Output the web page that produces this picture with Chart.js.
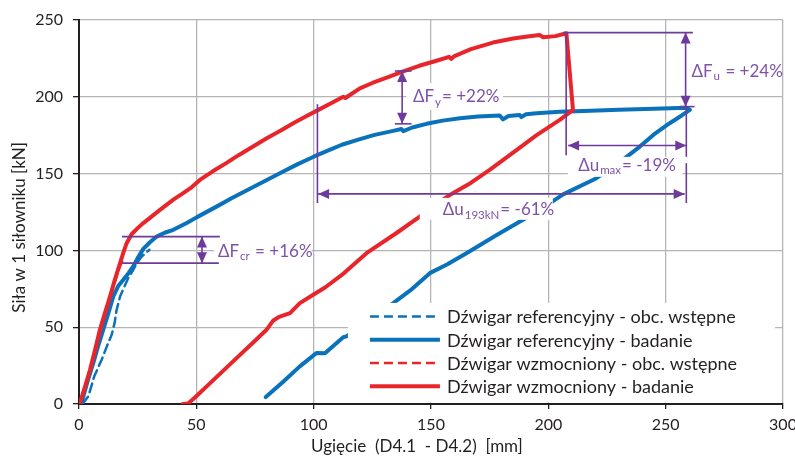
<!DOCTYPE html>
<html><head><meta charset="utf-8">
<script src="https://cdn.jsdelivr.net/npm/chart.js@4.4.1/dist/chart.umd.min.js"></script>
<style>html,body{margin:0;padding:0;background:#fff}</style>
</head><body>
<canvas id="c" width="795" height="464"></canvas>
<script>
// ---------- DATA ----------
const xTicks = [0, 50, 100, 150, 200, 250, 300];
const yTicks = [0, 50, 100, 150, 200, 250];
const seriesNames = [
  'Dźwigar referencyjny - obc. wstępne',
  'Dźwigar referencyjny - badanie',
  'Dźwigar wzmocniony - obc. wstępne',
  'Dźwigar wzmocniony - badanie'
];
const xTitle = 'Ugięcie  (D4.1  - D4.2)  [mm]';
const yTitle = 'Siła w 1 siłowniku [kN]';

const refPreX = [1.5, 4, 6.5, 9.7, 12, 13.9, 15.2, 16, 17.5, 19.5, 21, 23, 24.6, 26.7, 28.5, 30];
const refPreY = [0, 5, 18, 29, 38, 45, 53, 61, 70, 77, 82, 87, 91.7, 96, 98.5, 100.4];

const refTestX = [1.1, 3.5, 6.1, 8, 10.3, 12.5, 14.6, 16.8, 18.9, 21, 23.1, 25, 27.4, 30, 33.1, 36.5, 40.2, 45.9, 50.1, 58.6, 65, 72, 79, 86, 93, 100, 106, 112, 119.7, 126, 133.9, 137.4, 138.2, 142, 148.1, 155, 162.3, 170, 179.3, 180.7, 183, 187.8, 188.5, 190.5, 195, 204.9, 215, 230, 245, 258.8, 260.3, 257, 251.7, 245, 239, 230, 220.5, 206.3, 198, 189.2, 178, 165.1, 157, 149.5, 142, 133.9, 124, 114, 112.6, 104.8, 101.2, 99.8, 94.1, 87, 79.6];
const refTestY = [0.6, 14, 26.7, 37, 48.3, 59, 70, 77, 80.9, 85, 89.5, 95, 101, 105, 109, 111.5, 113.4, 117.8, 121.5, 128.5, 134, 139.5, 145, 150.5, 156, 161, 165, 168.8, 172.4, 175.2, 177.8, 179, 177.6, 180, 182.4, 184.5, 186.1, 187.2, 187.8, 185.3, 187.5, 188.2, 186.8, 188.6, 189.3, 190.2, 190.8, 191.5, 192.2, 192.8, 191.5, 188, 182.8, 175.5, 167.6, 157, 147, 136.5, 128, 120, 110, 98.2, 91, 85.2, 75, 65.7, 55, 44, 43.5, 33, 33.2, 31.5, 24.5, 14.5, 4.5];

const strPreX = [0, 2.5, 5, 7.5, 10, 12.5, 15, 17, 19];
const strPreY = [0, 10, 24, 37, 52, 65, 78, 88, 95];

const strTestX = [0.4, 2.5, 4.7, 6.8, 8.9, 11, 13.2, 15.3, 17.5, 19, 20.3, 22.4, 25, 27.4, 30.5, 34.5, 40.2, 44.4, 47.5, 51.5, 57, 62.9, 68, 74, 80, 86, 91.3, 97, 102, 107, 112.6, 113.5, 119.7, 125, 132, 138.2, 145, 152, 157.7, 158.7, 160, 167, 176.4, 185, 191.1, 196.3, 197.8, 203, 207.7, 210.5, 204.9, 195, 187, 175, 166, 158, 150, 145.2, 135, 122.5, 112, 105, 99.8, 94.1, 89.9, 85, 82.8, 79.9, 75, 65, 57, 49.4, 46.5, 44.2];
const strTestY = [0.6, 11, 22.3, 35, 48.3, 59, 70, 81, 91.7, 99, 104.7, 110.5, 114.5, 117.8, 121.5, 126.4, 133, 137.3, 140.5, 145.9, 151.5, 157, 162, 167.5, 173, 178, 182.8, 187.5, 191.5, 195.5, 200, 199.2, 205.5, 209, 213, 216.6, 220.2, 223.3, 226, 224.7, 226.5, 231, 235.3, 238, 239.3, 240.3, 238.8, 239.5, 241.4, 191.5, 185, 175, 166, 152.4, 143, 136, 128, 122, 111, 98.2, 84, 76, 71.1, 65.7, 59.2, 56.5, 54.4, 48.3, 41.2, 26.8, 15.2, 4.2, 0.3, 0];

// annotation labels
const annoTexts = [
  ['ΔF', 'cr', ' = +16%'],
  ['ΔF', 'y', '= +22%'],
  ['ΔF', 'u', ' = +24%'],
  ['Δu', 'max', '= -19%'],
  ['Δu', '193kN', '= -61%']
];

// ---------- STYLE / LAYOUT ----------
const BLUE = '#0A72BA', RED = '#E8252B', PURPLE = '#6E3A9C', PTEXT = '#7E52A8', INK = '#231F20', GRID = '#B5B5B5';
const FONT = 'Lato';

// annotation geometry (data units)
const annoLines = [
  [18.3, 109, 60, 109], [18.3, 91.7, 59.6, 91.7],
  [134.6, 216.8, 141.7, 216.8], [134.6, 182.4, 141.7, 182.4],
  [206.3, 241.8, 261.6, 241.8], [256, 193.6, 262.3, 193.6],
  [207.6, 241.8, 207.6, 162],
  [258.8, 193.2, 258.8, 160.9], [258.8, 156.8, 258.8, 130.8],
  [101.6, 195.2, 101.6, 130.8]
];
const annoArrows = [
  [52.4, 109, 52.4, 91.7], [137.7, 216.8, 137.7, 182.4], [258.5, 241.8, 258.5, 193.6],
  [208.4, 168.3, 258.8, 168.3], [101.9, 136.8, 258.1, 136.8]
];
const annoBoxes = [
  [57.5, 106.2, 99.2, 92], [139.5, 209, 180.7, 191.5], [260, 222.3, 299, 209.3],
  [208.3, 160.9, 257.2, 147.9], [145.2, 134.2, 201.9, 119.9]
];
const annoTextPos = [[59.2, 99.3], [142.3, 200], [261, 216.4], [212.7, 155.2], [155, 126.4]];
const legendBox = [114.6, 65.8];

const pts = (xs, ys) => xs.map((v, i) => ({x: v, y: ys[i]}));

const annoPlugin = {
  id: 'anno',
  afterDatasetsDraw(chart) {
    const {ctx, scales: {x, y}} = chart;
    const X = v => x.getPixelForValue(v), Y = v => y.getPixelForValue(v);
    ctx.save();
    ctx.fillStyle = '#fff';
    annoBoxes.forEach(b => ctx.fillRect(X(b[0]), Y(b[1]), X(b[2]) - X(b[0]), Y(b[3]) - Y(b[1])));
    ctx.strokeStyle = PURPLE; ctx.lineWidth = 1.6; ctx.setLineDash([]);
    annoLines.forEach(l => { ctx.beginPath(); ctx.moveTo(X(l[0]), Y(l[1])); ctx.lineTo(X(l[2]), Y(l[3])); ctx.stroke(); });
    ctx.fillStyle = PURPLE;
    const head = (px, py, ang) => {
      const L = 11, W = 5;
      ctx.beginPath();
      ctx.moveTo(px, py);
      ctx.lineTo(px - L * Math.cos(ang) + W * Math.sin(ang), py - L * Math.sin(ang) - W * Math.cos(ang));
      ctx.lineTo(px - L * Math.cos(ang) - W * Math.sin(ang), py - L * Math.sin(ang) + W * Math.cos(ang));
      ctx.closePath(); ctx.fill();
    };
    annoArrows.forEach(a => {
      const x1 = X(a[0]), y1 = Y(a[1]), x2 = X(a[2]), y2 = Y(a[3]);
      ctx.beginPath(); ctx.moveTo(x1, y1); ctx.lineTo(x2, y2); ctx.stroke();
      const ang = Math.atan2(y2 - y1, x2 - x1);
      head(x2, y2, ang); head(x1, y1, ang + Math.PI);
    });
    ctx.fillStyle = PTEXT; ctx.textBaseline = 'middle'; ctx.textAlign = 'left';
    annoTexts.forEach((t, i) => {
      let px = X(annoTextPos[i][0]); const py = Y(annoTextPos[i][1]);
      ctx.font = `17px ${FONT}`; ctx.fillText(t[0], px, py); px += ctx.measureText(t[0]).width + 1;
      ctx.font = `11.5px ${FONT}`; ctx.fillText(t[1], px, py + 5); px += ctx.measureText(t[1]).width + 1;
      ctx.font = `17px ${FONT}`; ctx.fillText(t[2], px, py);
    });
    // legend
    const lx = X(legendBox[0]), ly = Y(legendBox[1]);
    ctx.fillStyle = '#fff';
    ctx.fillRect(lx, ly, X(296.6) - lx, Y(0) - 1.5 - ly);
    chart.data.datasets.forEach((ds, i) => {
      const rowY = ly + 13.5 + i * 23.3;
      ctx.strokeStyle = ds.borderColor; ctx.lineWidth = ds.borderWidth;
      ctx.setLineDash(ds.borderDash || []);
      ctx.beginPath(); ctx.moveTo(lx + 22, rowY); ctx.lineTo(lx + 92, rowY); ctx.stroke();
      ctx.setLineDash([]);
      ctx.fillStyle = INK; ctx.font = `18px ${FONT}`;
      ctx.fillText(ds.label, lx + 99, rowY + 1);
    });
    ctx.restore();
  },
  afterDraw(chart) {
    const {ctx, scales: {x, y}} = chart;
    ctx.save();
    ctx.fillStyle = INK; ctx.font = `17px ${FONT}`;
    ctx.textAlign = 'center'; ctx.textBaseline = 'middle';
    ctx.fillText(xTitle, x.getPixelForValue(144), 447);
    ctx.translate(19.5, y.getPixelForValue(115));
    ctx.rotate(-Math.PI / 2);
    ctx.fillText(yTitle, 0, 0);
    ctx.restore();
  }
};

new Chart(document.getElementById('c'), {
  type: 'line',
  data: {
    datasets: [
      {label: seriesNames[0], data: pts(refPreX, refPreY), borderColor: BLUE, borderWidth: 2.5, borderDash: [9, 5], order: 3},
      {label: seriesNames[1], data: pts(refTestX, refTestY), borderColor: BLUE, borderWidth: 4, order: 2},
      {label: seriesNames[2], data: pts(strPreX, strPreY), borderColor: RED, borderWidth: 2.5, borderDash: [9, 5], order: 1},
      {label: seriesNames[3], data: pts(strTestX, strTestY), borderColor: RED, borderWidth: 4, order: 0}
    ].map(d => Object.assign(d, {pointRadius: 0, tension: 0, fill: false, borderCapStyle: 'round', borderJoinStyle: 'round'}))
  },
  options: {
    responsive: false, animation: false, devicePixelRatio: 1,
    layout: {padding: {top: 20, right: 12, left: 0, bottom: 0}},
    plugins: {legend: {display: false}, tooltip: {enabled: false}},
    scales: {
      x: {
        type: 'linear', min: 0, max: 300,
        afterBuildTicks: s => { s.ticks = xTicks.map(v => ({value: v})); },
        afterFit: s => { s.height = 60; s.paddingRight = 0; s.paddingLeft = 0; },
        grid: {color: GRID, lineWidth: 1.3, tickColor: INK, tickLength: 5},
        border: {color: INK, width: 2},
        ticks: {color: INK, font: {family: FONT, size: 16}, padding: 6, maxRotation: 0}
      },
      y: {
        type: 'linear', min: 0, max: 250,
        afterBuildTicks: s => { s.ticks = yTicks.map(v => ({value: v})); },
        afterFit: s => { s.width = 79; s.paddingTop = 0; s.paddingBottom = 0; },
        grid: {color: GRID, lineWidth: 1.3, tickColor: INK, tickLength: 6},
        border: {color: INK, width: 2},
        ticks: {color: INK, font: {family: FONT, size: 16}, padding: 10}
      }
    }
  },
  plugins: [annoPlugin]
});
</script>
</body></html>
